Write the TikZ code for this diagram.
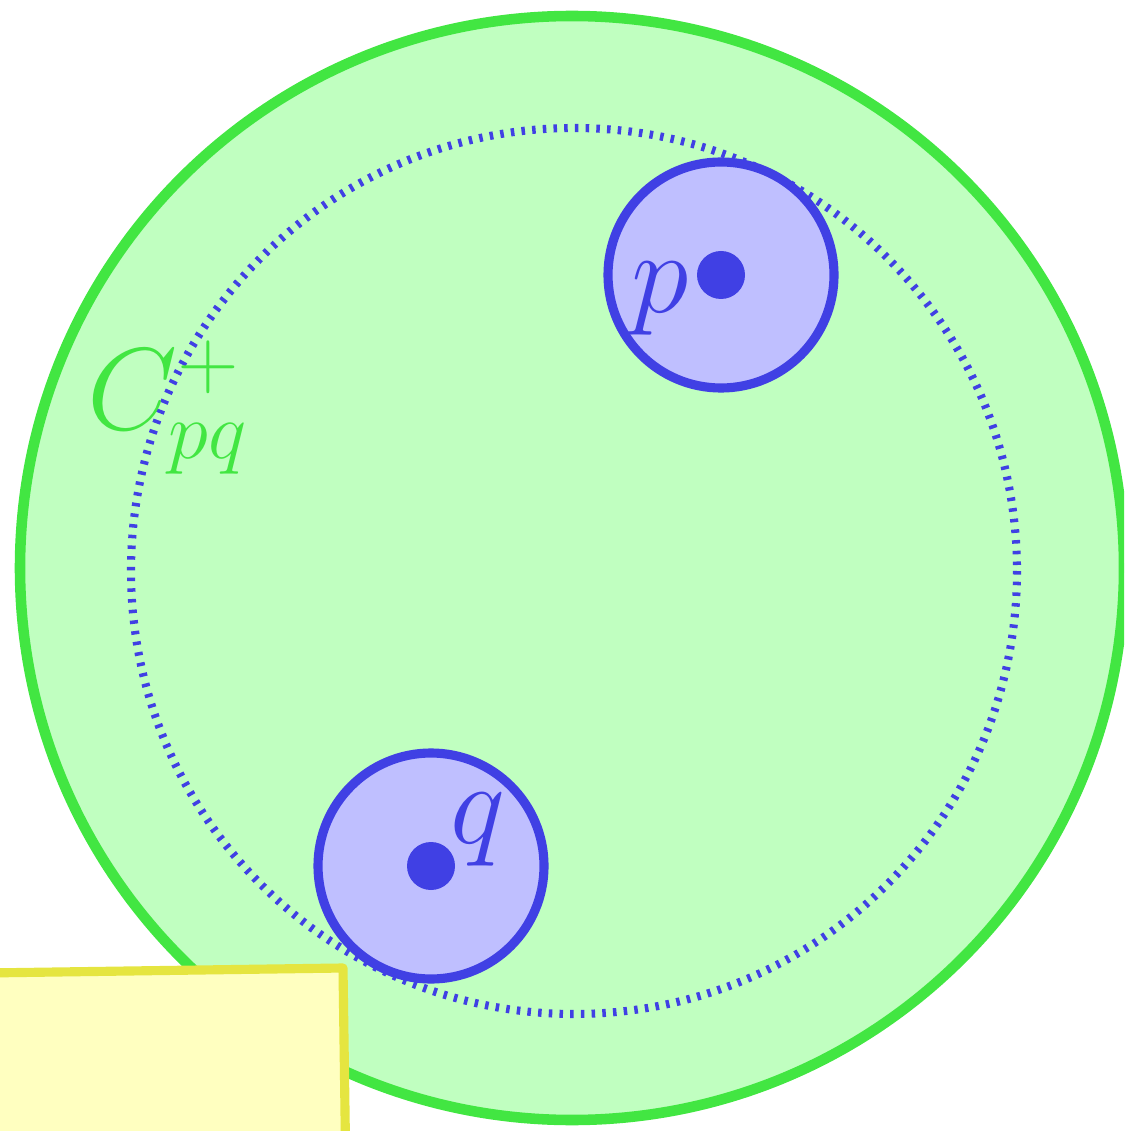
\documentclass[tikz,border=0pt]{standalone}
\usetikzlibrary{positioning}
\definecolor{regiongreen}{RGB}{66,230,66}
\definecolor{regionfill}{RGB}{192,255,192}
\definecolor{ballblue}{RGB}{64,64,228}
\definecolor{ballfill}{RGB}{191,191,255}
\definecolor{noteyellow}{RGB}{229,229,64}
\definecolor{notefill}{RGB}{255,255,192}
\tikzset{
  region/.style={draw=regiongreen,fill=regionfill,line width=3pt},
  tickring/.style={draw=ballblue,line width=2.3pt,dash pattern=on 1pt off 2.046pt},
  ball/.style={draw=ballblue,fill=ballfill,line width=2.6pt},
  pt/.style={fill=ballblue},
  note/.style={draw=noteyellow,fill=notefill,line width=2.6pt,line join=round},
  lbl/.style={inner sep=0pt,font=\huge,scale=1.6}
}
\begin{document}
\begin{tikzpicture}[x=0.01cm,y=-0.01cm]
\useasboundingbox (0,0) rectangle (1124,1131);
\clip (0,0) rectangle (1124,1131);
% outer region and inner ring
\draw[region] (572,568) circle (552);
\draw[tickring] (574,571) circle (443);
% the two balls
\draw[ball] (721,275) circle (113);
\draw[ball] (431,866) circle (113);
\fill[pt] (721,275) circle (24);
\fill[pt] (431,866) circle (24);
\node[lbl,text=ballblue,anchor=base] (plbl) at (660,313) {$p$};
\node[lbl,text=ballblue,anchor=base] (qlbl) at (478,843) {$q$};
\node[lbl,text=regiongreen,anchor=base west] (clbl) at (86,430) {$C^+_{pq}$};
% note box in the corner
\draw[note,rotate around={0.8:(343,968)}] (-40,968) -- (343,968) -- (343,1200) -- (-40,1200) -- cycle;
\end{tikzpicture}
\end{document}
